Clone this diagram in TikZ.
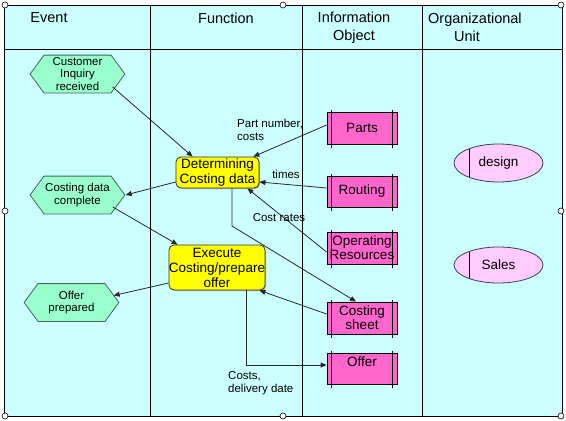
\documentclass[tikz,border=0pt]{standalone}
\usepackage{fontspec}
\setmainfont{Liberation Sans}
\usetikzlibrary{arrows.meta,shadows,shapes.geometric}
\definecolor{bgc}{RGB}{204,255,255}
\definecolor{evtfill}{RGB}{153,255,204}
\definecolor{evtline}{RGB}{70,100,85}
\definecolor{fnfill}{RGB}{255,255,0}
\definecolor{infill}{RGB}{255,102,204}
\definecolor{orgfill}{RGB}{255,204,255}
\definecolor{conn}{RGB}{40,40,40}
\begin{document}
\begin{tikzpicture}[x=1pt,y=-1pt,
  frame/.style={draw=black, line width=1pt},
  hdr/.style={inner sep=0pt, font=\fontsize{14.5}{18.5}\selectfont},
  evt/.style={rectangle, minimum width=96pt, minimum height=39pt, inner sep=0pt, align=center,
    font=\fontsize{11.5}{12.5}\selectfont,
    path picture={\filldraw[fill=evtfill, draw=evtline, line width=0.8pt]
      ([xshift=0.6pt]path picture bounding box.west)
      -- ([xshift=14.5pt,yshift=-0.6pt]path picture bounding box.north west)
      -- ([xshift=-14.5pt,yshift=-0.6pt]path picture bounding box.north east)
      -- ([xshift=-0.6pt]path picture bounding box.east)
      -- ([xshift=-14.5pt,yshift=0.6pt]path picture bounding box.south east)
      -- ([xshift=14.5pt,yshift=0.6pt]path picture bounding box.south west) -- cycle;}},
  fn/.style={rectangle, rounded corners=5pt, fill=fnfill, draw=black!80, line width=0.8pt,
    inner sep=0pt, align=center, font=\fontsize{13.5}{15}\selectfont,
    general shadow={fill=black!35, shadow xshift=1pt, shadow yshift=-1pt}},
  info/.style={rectangle, fill=infill, draw=black, line width=0.8pt, minimum width=70pt,
    inner sep=0pt, align=center, font=\fontsize{13.5}{14}\selectfont},
  org/.style={ellipse, fill=orgfill, draw=black!75, line width=0.8pt, minimum width=89pt,
    inner sep=0pt, align=center, font=\fontsize{13.5}{15}\selectfont},
  lbl/.style={inner sep=0pt, align=left, font=\fontsize{11.5}{13}\selectfont},
  arr/.style={draw=conn, line width=0.8pt, -{Triangle[length=6pt,width=5pt]}},
  bar/.style={draw=black, line width=0.8pt},
  handle/.style={circle, draw=black, fill=white, line width=0.6pt, minimum size=6pt, inner sep=0pt}
]
\useasboundingbox (0,0) rectangle (566,421);
% swimlane frame
\fill[bgc] (4,5) rectangle (562,416);
\draw[frame] (4,5) rectangle (562,416);
\draw[frame] (4,49) -- (562,49);
\draw[frame] (150,5) -- (150,416);
\draw[frame] (302,5) -- (302,416);
\draw[frame] (422,5) -- (422,416);
% headers
\node[hdr] (hEvent) at (49,18) {Event};
\node[hdr] (hFunction) at (226,18) {Function};
\node[hdr, align=center] (hInfo) at (354,27.5) {Information\\Object};
\node[hdr, align=left, anchor=west] (hOrg) at (428,27.5) {Organizational\\\hspace*{26pt}Unit};
% events
\node[evt] (e1) at (77.5,74) {Customer\\Inquiry\\received};
\node[evt] (e2) at (77.5,195) {Costing data\\complete};
\node[evt] (e3) at (71.5,302.5) {Offer\\prepared};
% functions
\node[fn, minimum width=83pt, minimum height=31pt] (f1) at (217.5,172.5) {Determining\\Costing data};
\node[fn, minimum width=96pt, minimum height=45pt] (f2) at (217,267.5) {Execute\\Costing/prepare\\offer};
% information objects
\node[info, minimum height=32pt] (i1) at (362,128) {Parts};
\node[info, minimum height=31pt] (i2) at (362,191.5) {Routing};
\node[info, minimum height=32pt] (i3) at (362,248) {Operating\\Resources};
\node[info, minimum height=32pt] (i4) at (362,318) {Costing\\sheet};
\node[info, minimum height=31pt, text depth=14pt] (i5) at (362,368.5) {Offer};
\foreach \n in {i1,i2,i3,i4,i5}{
  \draw[bar] ([xshift=5pt,yshift=2pt]\n.north west) -- ([xshift=5pt,yshift=-4pt]\n.south west);
  \draw[bar] ([xshift=-5pt,yshift=2pt]\n.north east) -- ([xshift=-5pt,yshift=-4pt]\n.south east);
}
% organizational units
\node[org, minimum height=38pt] (o1) at (498.5,163) {design};
\node[org, minimum height=36pt] (o2) at (498.5,265) {Sales};
\draw[bar] ([xshift=-29.5pt,yshift=14.2pt]o1.center) -- ([xshift=-29.5pt,yshift=-14.2pt]o1.center);
\draw[bar] ([xshift=-29.5pt,yshift=13.4pt]o2.center) -- ([xshift=-29.5pt,yshift=-13.4pt]o2.center);
% connectors
\draw[arr] ([xshift=-13pt,yshift=-13pt]e1.east) -- ([xshift=17pt]f1.north west);
\draw[arr] ([yshift=-9.5pt]f1.west) -- (e2.east);
\draw[arr] ([xshift=-13pt,yshift=-12pt]e2.east) -- ([xshift=9pt]f2.north west);
\draw[arr] ([yshift=-15.5pt]f2.west) -- ([xshift=-6pt,yshift=7pt]e3.east);
\draw[arr] ([yshift=3pt]i1.west) -- ([xshift=-6pt]f1.north east);
\draw[arr] ([yshift=3.5pt]i2.west) -- ([yshift=-9.5pt]f1.east);
\draw[arr] ([yshift=-4pt]i3.west) -- ([xshift=-12pt]f1.south east);
\coordinate (k1) at (232,226);
\draw[arr] ([xshift=14.5pt]f1.south) -- (k1) -- ([xshift=-6pt]i4.north);
\draw[arr] ([yshift=4pt]i4.west) -- ([xshift=-6pt]f2.south east);
\coordinate (k2) at (246,365);
\draw[arr] ([xshift=29pt]f2.south) -- (k2) -- ([yshift=3.5pt]i5.west);
% connector labels
\node[lbl, anchor=west] (l1) at (237,129.5) {Part number,\\costs};
\node[lbl] (l2) at (286,174) {times};
\node[lbl] (l3) at (279,218) {Cost rates};
\node[lbl, anchor=west] (l4) at (228,383) {Costs,\\delivery date};
% selection handles
\foreach \p/\q [count=\k] in {5/5,283/5,561/5,5/211,561/211,5/416,283/416,561/416}{
  \node[handle] (h\k) at (\p,\q) {};
}
\end{tikzpicture}
\end{document}
